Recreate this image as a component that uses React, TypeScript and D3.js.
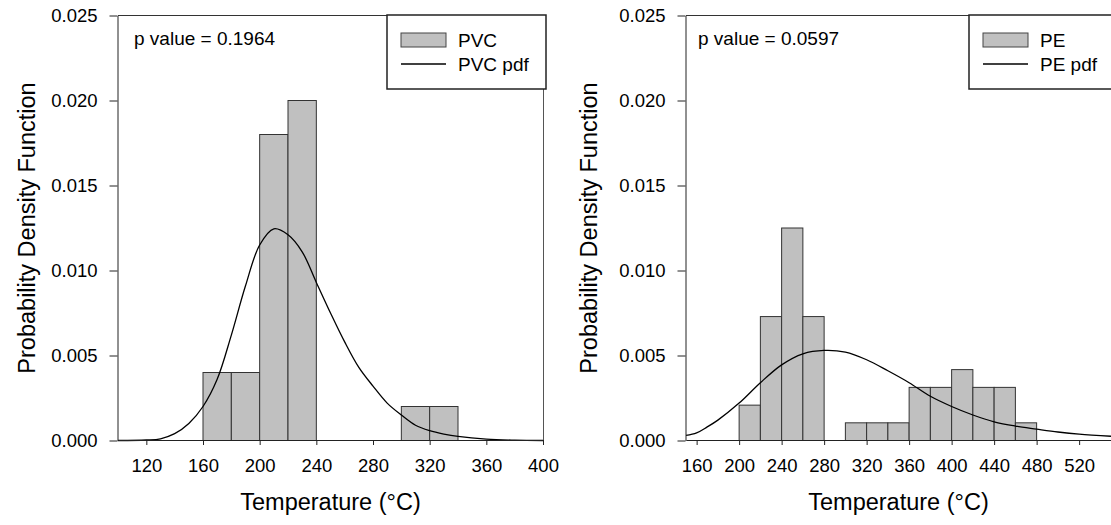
import * as d3 from "d3";
import { useEffect, useRef } from "react";

// histogram bins are 20 °C wide, values are probability densities
const pvcBinStart = [160, 180, 200, 220, 300, 320];
const pvcDensity = [0.004, 0.004, 0.018, 0.02, 0.002, 0.002];

const pvcPdfTemp = [100, 120, 130, 140, 150, 160, 170, 180, 190, 200, 210, 220, 230, 240, 250, 260, 270, 280, 290, 300, 310, 320, 330, 340, 360, 380, 400];
const pvcPdfValue = [0, 0.00003, 0.0001, 0.0004, 0.001, 0.002, 0.0036, 0.0062, 0.0091, 0.0115, 0.01245, 0.0121, 0.0111, 0.0093, 0.0075, 0.0058, 0.0043, 0.0032, 0.0022, 0.0015, 0.0009, 0.00058, 0.00038, 0.00024, 0.00008, 0.00002, 0];

const peBinStart = [200, 220, 240, 260, 300, 320, 340, 360, 380, 400, 420, 440, 460];
const peDensity = [0.00208, 0.00729, 0.0125, 0.00729, 0.00104, 0.00104, 0.00104, 0.003125, 0.003125, 0.00417, 0.003125, 0.003125, 0.00104];

const pePdfTemp = [150, 160, 170, 180, 200, 220, 240, 260, 280, 300, 320, 340, 360, 380, 400, 420, 440, 460, 480, 500, 520, 550];
const pePdfValue = [0.0003, 0.00045, 0.0008, 0.0012, 0.0022, 0.0034, 0.00445, 0.0051, 0.0053, 0.0052, 0.00475, 0.0041, 0.0034, 0.0026, 0.002, 0.0015, 0.0011, 0.00085, 0.00067, 0.0005, 0.00037, 0.00025];

const yTicks = [0, 0.005, 0.01, 0.015, 0.02, 0.025];
const pvcXTicks = [120, 160, 200, 240, 280, 320, 360, 400];
const peXTicks = [160, 200, 240, 280, 320, 360, 400, 440, 480, 520];

const FONT = "'Liberation Sans', Arial, sans-serif";
const TOP = 15.5;
const BOTTOM = 440.5;
const PW = 425;
const BIN = 20;

type PanelProps = {
  left: number;
  xDomain: [number, number];
  xTicks: number[];
  binStart: number[];
  density: number[];
  pdfTemp: number[];
  pdfValue: number[];
  name: string;
  pValue: string;
  pOffset: number;
  legendWidth: number;
  titleX: number;
};

function Panel(p: PanelProps) {
  const ref = useRef<SVGGElement>(null);

  useEffect(() => {
    const g = d3.select(ref.current);
    g.selectAll("*").remove();

    const x = d3.scaleLinear().domain(p.xDomain).range([p.left, p.left + PW]);
    const y = d3.scaleLinear().domain([0, 0.025]).range([BOTTOM, TOP]);
    const right = p.left + PW;

    // bars
    g.append("g")
      .selectAll("rect")
      .data(p.binStart)
      .join("rect")
      .attr("x", (d) => x(d))
      .attr("y", (d, i) => y(p.density[i]))
      .attr("width", (d) => x(d + BIN) - x(d))
      .attr("height", (d, i) => y(0) - y(p.density[i]))
      .attr("fill", "#c0c0c0")
      .attr("stroke", "#333")
      .attr("stroke-width", 1);

    // pdf curve
    const line = d3
      .line<number>()
      .x((d) => x(d))
      .y((d, i) => y(p.pdfValue[i]))
      .curve(d3.curveCatmullRom.alpha(0.5));
    g.append("path")
      .attr("d", line(p.pdfTemp))
      .attr("fill", "none")
      .attr("stroke", "#000")
      .attr("stroke-width", 1.3);

    // frame top + right
    g.append("line")
      .attr("x1", p.left).attr("x2", right)
      .attr("y1", TOP).attr("y2", TOP)
      .attr("stroke", "#333");
    g.append("line")
      .attr("x1", right + 0.5).attr("x2", right + 0.5)
      .attr("y1", TOP).attr("y2", BOTTOM)
      .attr("stroke", "#555");

    const xAxis = d3.axisBottom(x).tickValues(p.xTicks).tickSize(5).tickSizeOuter(0).tickPadding(14);
    const gx = g.append("g").attr("transform", `translate(0,${BOTTOM - 0.5})`).call(xAxis);
    const yAxis = d3.axisLeft(y).tickValues(yTicks).tickSize(8).tickSizeOuter(0).tickPadding(12).tickFormat(d3.format(".3f"));
    const gy = g.append("g").attr("transform", `translate(${p.left - 0.5},0)`).call(yAxis);
    [gx, gy].forEach((a) => {
      a.selectAll("path,line").attr("stroke", "#222");
      a.selectAll("text").attr("font-size", 18.5).attr("font-family", FONT).attr("fill", "#000");
    });

    // legend
    const lx = right + 3 - p.legendWidth;
    const lg = g.append("g");
    lg.append("rect")
      .attr("x", lx).attr("y", TOP - 0.5)
      .attr("width", p.legendWidth).attr("height", 74)
      .attr("fill", "#fff").attr("stroke", "#222").attr("stroke-width", 1.5);
    lg.append("rect")
      .attr("x", lx + 14).attr("y", 33)
      .attr("width", 45).attr("height", 14)
      .attr("fill", "#c0c0c0").attr("stroke", "#444");
    lg.append("line")
      .attr("x1", lx + 14).attr("x2", lx + 59)
      .attr("y1", 64).attr("y2", 64)
      .attr("stroke", "#000").attr("stroke-width", 1.3);
    lg.append("text").attr("x", lx + 71).attr("y", 47).text(p.name);
    lg.append("text").attr("x", lx + 71).attr("y", 71).text(p.name + " pdf");
    lg.selectAll("text").attr("font-size", 19).attr("font-family", FONT);

    g.append("text")
      .attr("x", p.left + p.pOffset).attr("y", 45)
      .attr("font-size", 19).attr("font-family", FONT)
      .text("p value = " + p.pValue);

    g.append("text")
      .attr("x", p.left + PW / 2).attr("y", 510)
      .attr("text-anchor", "middle")
      .attr("font-size", 23.5).attr("font-family", FONT)
      .text("Temperature (°C)");
    g.append("text")
      .attr("transform", `translate(${p.titleX},${(TOP + BOTTOM) / 2}) rotate(-90)`)
      .attr("text-anchor", "middle")
      .attr("font-size", 23.5).attr("font-family", FONT)
      .text("Probability Density Function");
  }, [p]);

  return <g ref={ref}></g>;
}

export default function App() {
  return (
    <svg width={W} height={H} style={{ position: "absolute", left: 0, top: 0, background: "#fff" }}>
      <Panel
        left={118}
        xDomain={[100, 400]}
        xTicks={pvcXTicks}
        binStart={pvcBinStart}
        density={pvcDensity}
        pdfTemp={pvcPdfTemp}
        pdfValue={pvcPdfValue}
        name="PVC"
        pValue="0.1964"
        pOffset={16}
        legendWidth={159}
        titleX={35}
      />
      <Panel
        left={686}
        xDomain={[150, 550]}
        xTicks={peXTicks}
        binStart={peBinStart}
        density={peDensity}
        pdfTemp={pePdfTemp}
        pdfValue={pePdfValue}
        name="PE"
        pValue="0.0597"
        pOffset={12}
        legendWidth={145}
        titleX={597}
      />
    </svg>
  );
}

const W = 1111;
const H = 525;
